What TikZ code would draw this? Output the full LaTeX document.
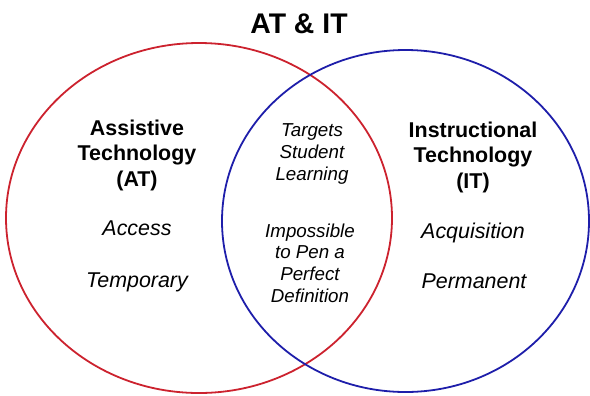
\documentclass[tikz,border=0pt]{standalone}
\usepackage{fontspec}
\setmainfont{Liberation Sans}

\definecolor{atred}{RGB}{204,34,46}
\definecolor{itblue}{RGB}{30,30,170}

\tikzset{
  ring/.style={line width=1.8bp},
  head/.style={font=\bfseries\fontsize{21.5}{25.5}\selectfont, align=center, anchor=base, inner sep=0pt},
  word/.style={font=\itshape\fontsize{21.5}{25}\selectfont, anchor=base, inner sep=0pt},
  shared/.style={font=\itshape\fontsize{18.8}{21.6}\selectfont, align=center, anchor=base, inner sep=0pt}
}

\begin{document}
\begin{tikzpicture}[x=1bp,y=-1bp]
\useasboundingbox (0,0) rectangle (590,395);

% the two sets
\draw[ring,atred] (199,218) ellipse [x radius=193bp, y radius=175bp];
\draw[ring,itblue] (405.5,221) ellipse [x radius=183.5bp, y radius=171bp];

\node[font=\bfseries\fontsize{28.5}{30}\selectfont, anchor=base, inner sep=0pt] (title) at (299,33) {AT \& IT};

% AT side (base is the last line)
\node[head] (athead) at (137,186) {Assistive\\Technology\\(AT)};
\node[word] (access) at (137,235) {Access};
\node[word] (temporary) at (137,287) {Temporary};

% IT side
\node[head] (ithead) at (473,188) {Instructional\\Technology\\(IT)};
\node[word] (acquisition) at (473,238) {Acquisition};
\node[word] (permanent) at (474,288) {Permanent};

% overlap
\node[shared] (targets) at (312,180) {Targets\\Student\\Learning};
\node[shared] (impossible) at (310,302) {Impossible\\to Pen a\\Perfect\\Definition};
\end{tikzpicture}
\end{document}
